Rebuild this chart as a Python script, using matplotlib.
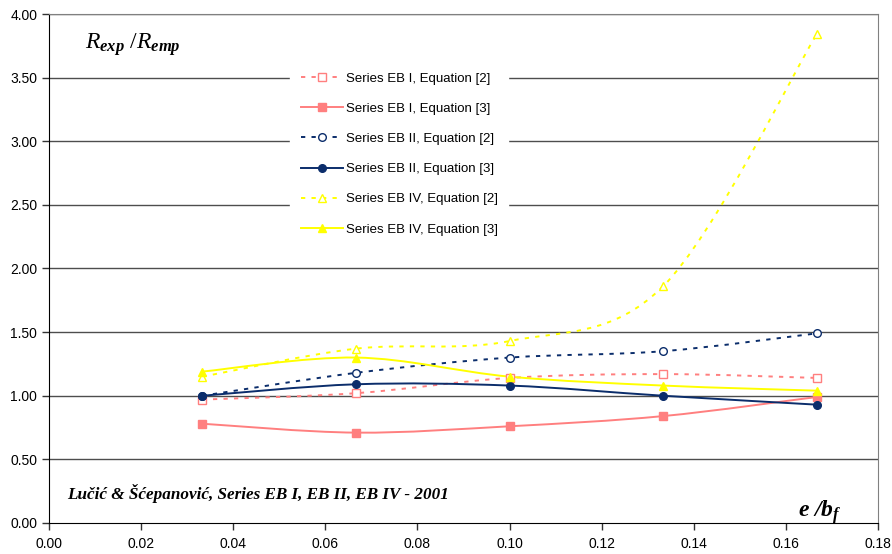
import numpy as np
import matplotlib
matplotlib.use('Agg')
from matplotlib import pyplot as plt
from matplotlib.path import Path
from matplotlib.patches import PathPatch
from matplotlib.lines import Line2D

plt.rcParams['font.family'] = ['Liberation Sans', 'DejaVu Sans']
plt.rcParams['mathtext.fontset'] = 'custom'
plt.rcParams['mathtext.it'] = 'Liberation Serif:italic'
plt.rcParams['mathtext.rm'] = 'Liberation Serif'
plt.rcParams['mathtext.bfit'] = 'Liberation Serif:italic:bold'

# e/b_f values
x_vals = [1 / 30, 2 / 30, 3 / 30, 4 / 30, 5 / 30]

eb1_eq2 = [0.97, 1.02, 1.14, 1.17, 1.14]
eb1_eq3 = [0.78, 0.71, 0.76, 0.84, 0.99]
eb2_eq2 = [1.00, 1.18, 1.30, 1.35, 1.49]
eb2_eq3 = [1.00, 1.09, 1.08, 1.00, 0.93]
eb4_eq2 = [1.15, 1.37, 1.43, 1.86, 3.84]
eb4_eq3 = [1.19, 1.30, 1.15, 1.08, 1.04]

labels = ['Series EB I, Equation [2]', 'Series EB I, Equation [3]',
          'Series EB II, Equation [2]', 'Series EB II, Equation [3]',
          'Series EB IV, Equation [2]', 'Series EB IV, Equation [3]']

x_ticks = [0.00, 0.02, 0.04, 0.06, 0.08, 0.10, 0.12, 0.14, 0.16, 0.18]
y_ticks = [0.0, 0.5, 1.0, 1.5, 2.0, 2.5, 3.0, 3.5, 4.0]

pink = '#ff7f7f'
navy = '#0b2d6b'
yellow = '#ffff00'
dash = (0, (2.2, 3.2))

styles = [
    dict(color=pink, ls=dash, marker='s', mfc='white'),
    dict(color=pink, ls='-', marker='s', mfc=pink),
    dict(color=navy, ls=dash, marker='o', mfc='white'),
    dict(color=navy, ls='-', marker='o', mfc=navy),
    dict(color=yellow, ls=dash, marker='^', mfc='white'),
    dict(color=yellow, ls='-', marker='^', mfc=yellow),
]
series = [eb1_eq2, eb1_eq3, eb2_eq2, eb2_eq3, eb4_eq2, eb4_eq3]


def smooth_path(xs, ys):
    # Excel-like smoothed line: Catmull-Rom segments as cubic Bezier curves
    pts = np.column_stack([xs, ys])
    ext = np.vstack([pts[0], pts, pts[-1]])
    verts = [pts[0]]
    codes = [Path.MOVETO]
    for i in range(len(pts) - 1):
        p0, p1, p2, p3 = ext[i], ext[i + 1], ext[i + 2], ext[i + 3]
        verts += [p1 + (p2 - p0) / 6, p2 - (p3 - p1) / 6, p2]
        codes += [Path.CURVE4] * 3
    return Path(verts, codes)


fig = plt.figure(figsize=(8.92, 5.54), dpi=100)
ax = fig.add_axes([0.0549, 0.056, 0.9294, 0.9187])
ax.set_xlim(0, 0.18)
ax.set_ylim(0, 4.0)

for yv in y_ticks[1:]:
    ax.axhline(yv, color='#4d4d4d', lw=1.0, zorder=1)

handles = []
for ys, st in zip(series, styles):
    ax.add_patch(PathPatch(smooth_path(x_vals, ys), fill=False, edgecolor=st['color'],
                           lw=1.4, linestyle=st['ls'], zorder=3, capstyle='butt'))
    ax.plot(x_vals, ys, ls='none', marker=st['marker'], ms=5.5, mfc=st['mfc'],
            mec=st['color'], mew=1.0, zorder=4)
    handles.append(Line2D([], [], color=st['color'], ls=st['ls'], lw=1.4,
                          marker=st['marker'], ms=5.5, mfc=st['mfc'],
                          mec=st['color'], mew=1.0))

leg = ax.legend(handles, labels, loc='upper left', bbox_to_anchor=(0.283, 0.919),
                frameon=True, fontsize=9.5, handlelength=3.2, labelspacing=1.36,
                handletextpad=0.2, borderpad=0.8, fancybox=False)
leg.get_frame().set_edgecolor('white')
leg.get_frame().set_facecolor('white')
leg.get_frame().set_alpha(1)
leg.set_zorder(5)

ax.set_xticks(x_ticks)
ax.set_xticklabels(['%.2f' % v for v in x_ticks])
ax.set_yticks(y_ticks)
ax.set_yticklabels(['%.2f' % v for v in y_ticks])
ax.tick_params(axis='both', direction='out', length=5, width=1, labelsize=10,
               color='#333333')
ax.tick_params(axis='x', pad=5)

for side in ['top', 'right']:
    ax.spines[side].set_color('#808080')
for side in ['left', 'bottom']:
    ax.spines[side].set_color('black')

ax.text(0.043, 0.94, r'$R_{\mathbfit{exp}}\ /R_{\mathbfit{emp}}$', transform=ax.transAxes,
        fontsize=17, ha='left', va='center', zorder=6)
ax.text(0.022, 0.058, 'Lučić & Šćepanović, Series EB I, EB II, EB IV - 2001',
        transform=ax.transAxes, fontsize=12.3, family='Liberation Serif',
        style='italic', weight='bold', ha='left', va='center', zorder=6)
ax.text(0.904, 0.012, r'$\mathbfit{e\ /b}_{\mathbfit{f}}$', transform=ax.transAxes,
        fontsize=17, ha='left', va='baseline', zorder=6)

fig.savefig('out.png', dpi=100)
